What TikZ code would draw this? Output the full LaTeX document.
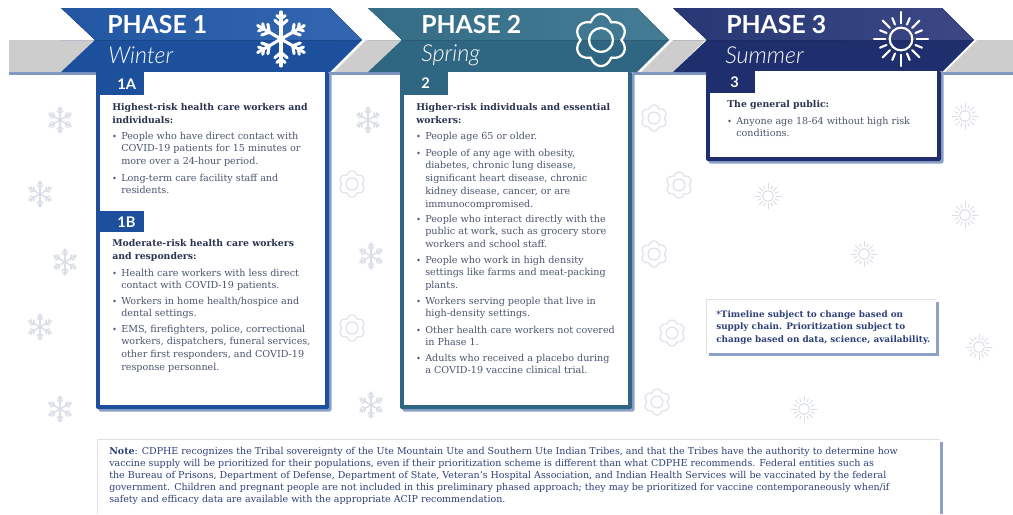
\documentclass[tikz,border=0pt]{standalone}
\usepackage{fontspec}
\setmainfont{DejaVu Serif}
\newfontfamily\headfont{Lato}
\newfontfamily\seasonfont{Lato}[UprightFont=* Light Italic]
\usetikzlibrary{calc}
\definecolor{bandgray}{HTML}{CDCDCD}
\definecolor{bandline}{HTML}{7F96C2}
\definecolor{onedark}{HTML}{1C509C}
\definecolor{onelight}{HTML}{3366B0}
\definecolor{twodark}{HTML}{2F6681}
\definecolor{twolight}{HTML}{437C94}
\definecolor{threedark}{HTML}{1F2F6E}
\definecolor{threelight}{HTML}{3C4885}
\definecolor{bodytext}{HTML}{4B5570}
\definecolor{headtext}{HTML}{2B3352}
\definecolor{notetext}{HTML}{2F4079}
\definecolor{iconpale}{HTML}{DADEE6}
\definecolor{shadowblue}{HTML}{8DA1C8}
\tikzset{
  x=0.75pt,y=-0.75pt,
  bodyblock/.style={anchor=north west,inner sep=0pt,align=left,text=bodytext,
    font=\fontsize{7.2}{9.6}\selectfont},
  headblock/.style={anchor=north west,inner sep=0pt,align=left,text=headtext,
    font=\fontsize{7}{9.55}\selectfont\bfseries},
  dotmark/.style={circle,fill=bodytext,inner sep=0pt,minimum size=2.2pt},
  phasetitle/.style={anchor=west,inner sep=0pt,text=white,font=\headfont\fontsize{18.6}{20}\selectfont\bfseries},
  seasontitle/.style={anchor=west,inner sep=0pt,text=white,font=\seasonfont\fontsize{17.5}{20}\selectfont},
  tablabel/.style={anchor=west,inner sep=0pt,text=white,font=\headfont\fontsize{11}{12}\selectfont\bfseries},
  noteblock/.style={anchor=north west,inner sep=0pt,align=left,text=notetext,
    font=\fontsize{7.12}{9}\selectfont},
  timeblock/.style={anchor=north west,inner sep=0pt,align=left,text=notetext,
    font=\fontsize{6.65}{9.4}\selectfont\bfseries},
}
% #1 x, #2 y, #3 radius in px, #4 colour, #5 line width
\newcommand{\snowicon}[5]{%
  \begin{scope}[shift={(#1,#2)},draw=#4,line width=#5,line cap=round]
    \foreach \a in {90,150,210,270,330,30}{
      \draw (0,0) -- ({#3*cos(\a)},{#3*sin(\a)});
      \draw ({.5*#3*cos(\a)+.3*#3*cos(\a+50)},{.5*#3*sin(\a)+.3*#3*sin(\a+50)}) -- ({.5*#3*cos(\a)},{.5*#3*sin(\a)}) -- ({.5*#3*cos(\a)+.3*#3*cos(\a-50)},{.5*#3*sin(\a)+.3*#3*sin(\a-50)});
      \draw ({.74*#3*cos(\a)+.2*#3*cos(\a+50)},{.74*#3*sin(\a)+.2*#3*sin(\a+50)}) -- ({.74*#3*cos(\a)},{.74*#3*sin(\a)}) -- ({.74*#3*cos(\a)+.2*#3*cos(\a-50)},{.74*#3*sin(\a)+.2*#3*sin(\a-50)});
    }
  \end{scope}}
\newcommand{\flowericon}[5]{%
  \begin{scope}[shift={(#1,#2)},draw=#4,line width=#5,line join=round]
    \draw plot[domain=0:360,samples=121] ({#3*(.78+.22*abs(sin(3*\x)))*cos(\x)},{#3*(.78+.22*abs(sin(3*\x)))*sin(\x)}) -- cycle;
    \draw (0,0) circle ({.46*#3});
  \end{scope}}
\newcommand{\sunicon}[5]{%
  \begin{scope}[shift={(#1,#2)},draw=#4,line width=#5,line cap=round]
    \draw (0,0) circle ({.42*#3});
    \foreach \a in {0,90,180,270}{
      \draw ({.58*#3*cos(\a)},{.58*#3*sin(\a)}) -- ({#3*cos(\a)},{#3*sin(\a)});
      \draw ({.58*#3*cos(\a+22.5)},{.58*#3*sin(\a+22.5)}) -- ({.84*#3*cos(\a+22.5)},{.84*#3*sin(\a+22.5)});
      \draw ({.58*#3*cos(\a+45)},{.58*#3*sin(\a+45)}) -- ({.96*#3*cos(\a+45)},{.96*#3*sin(\a+45)});
      \draw ({.58*#3*cos(\a+67.5)},{.58*#3*sin(\a+67.5)}) -- ({.84*#3*cos(\a+67.5)},{.84*#3*sin(\a+67.5)});
    }
  \end{scope}}
% #1 left, #2 right, #3 dark, #4 light
\newcommand{\phasearrow}[4]{%
  \fill[#3] (#1,40) -- (#1+34,40) -- (#1,72) -- (#2,72) -- (#2+32,40) -- cycle;
  \fill[left color=#3!70!#4,right color=#4] (#1,8) -- (#2,8) -- (#2+32,40) -- (#1+34,40) -- cycle;}
% #1 left, #2 top, #3 right, #4 bottom, #5 colour, #6 tab right, #7 tab bottom
\newcommand{\phasecard}[7]{%
  \fill[shadowblue,rounded corners=1.5] (#1+2.5,#2) rectangle (#3+2.5,#4+2.5);
  \fill[#5,rounded corners=1.5] (#1,#2) rectangle (#3,#4);
  \fill[white] (#1+4,#2) rectangle (#3-4,#4-4);
  \fill[#5] (#1,#2) rectangle (#6,#7);}
\begin{document}
\begin{tikzpicture}
\useasboundingbox (0,0) rectangle (1013,514);
\fill[white] (0,0) rectangle (1013,514);
% band
\fill[bandline] (9,72) rectangle (1013,75);
\fill[bandgray] (9,40) -- (95,40) -- (61,72) -- (9,72) -- cycle;
\fill[bandgray] (366,40) -- (402,40) -- (368,72) -- (334,72) -- cycle;
\fill[bandgray] (673,40) -- (705,40) -- (673,72) -- (641,72) -- cycle;
\fill[bandgray] (977,40) -- (1013,40) -- (1013,72) -- (945,72) -- cycle;
% pale background icons
\foreach \p/\q in {60/120,40/194,65/262,40/327,60/409,368/120,371/256,371/405}{\snowicon{\p}{\q}{13}{iconpale}{1.05pt}}
\foreach \p/\q in {352/184,352/328,654/118,679/185,654/254,672/333,657/402}{\flowericon{\p}{\q}{13}{iconpale}{.8pt}}
\foreach \p/\q in {965/116,768/196,965/215,864/254,979/347,804/409}{\sunicon{\p}{\q}{13}{iconpale}{.75pt}}
% phase arrows
\phasearrow{61}{330}{onedark}{onelight}
\phasearrow{368}{637}{twodark}{twolight}
\phasearrow{673}{942}{threedark}{threelight}
% cards
\phasecard{96}{72}{329}{409}{onedark}{144}{95}
\fill[onedark] (96,211) rectangle (144,232);
\phasecard{400}{72}{632}{409}{twodark}{448}{95}
\phasecard{706}{71}{941}{161}{threedark}{755}{93}
% headers
\node[phasetitle] (p1) at (107,25) {PHASE 1};
\node[seasontitle] (s1) at (108,55) {Winter};
\node[phasetitle] (p2) at (421,25) {PHASE 2};
\node[seasontitle] (s2) at (421,55) {Spring};
\node[phasetitle] (p3) at (726,25) {PHASE 3};
\node[seasontitle] (s3) at (725,55) {Summer};
\snowicon{281}{39}{27}{white}{2.3pt}
\flowericon{601}{40}{26}{white}{1.7pt}
\sunicon{901}{39}{27}{white}{1.6pt}
% tabs
\node[tablabel] (t1a) at (117,84) {1A};
\node[tablabel] (t1b) at (117,222) {1B};
\node[tablabel] (t2) at (421,83) {2};
\node[tablabel] (t3) at (730,82) {3};
% card 1
\node[headblock] (h1a) at (112,103) {Highest-risk health care workers and\\individuals:};
\node[dotmark] (d1) at (114.5,136) {};
\node[bodyblock] (b1) at (121,131.5) {People who have direct contact with\\COVID-19 patients for 15 minutes or\\more over a 24-hour period.};
\node[dotmark] (d2) at (114.5,178) {};
\node[bodyblock] (b2) at (121,173.5) {Long-term care facility staff and\\residents.};
\node[headblock] (h1b) at (112,239) {Moderate-risk health care workers\\and responders:};
\node[dotmark] (d3) at (114.5,273) {};
\node[bodyblock] (b3) at (121,268.5) {Health care workers with less direct\\contact with COVID-19 patients.};
\node[dotmark] (d4) at (114.5,301) {};
\node[bodyblock] (b4) at (121,296.5) {Workers in home health/hospice and\\dental settings.};
\node[dotmark] (d5) at (114.5,329) {};
\node[bodyblock] (b5) at (121,324.5) {EMS, firefighters, police, correctional\\workers, dispatchers, funeral services,\\other first responders, and COVID-19\\response personnel.};
% card 2
\node[headblock] (h2) at (416,103) {Higher-risk individuals and essential\\workers:};
\node[dotmark] (e1) at (418.5,136) {};
\node[bodyblock] (c1) at (425,131.5) {People age 65 or older.};
\node[dotmark] (e2) at (418.5,153) {};
\node[bodyblock] (c2) at (425,148.5) {People of any age with obesity,\\diabetes, chronic lung disease,\\significant heart disease, chronic\\kidney disease, cancer, or are\\immunocompromised.};
\node[dotmark] (e3) at (418.5,219) {};
\node[bodyblock] (c3) at (425,214.5) {People who interact directly with the\\public at work, such as grocery store\\workers and school staff.};
\node[dotmark] (e4) at (418.5,260) {};
\node[bodyblock] (c4) at (425,255.5) {People who work in high density\\settings like farms and meat-packing\\plants.};
\node[dotmark] (e5) at (418.5,301) {};
\node[bodyblock] (c5) at (425,296.5) {Workers serving people that live in\\high-density settings.};
\node[dotmark] (e6) at (418.5,330) {};
\node[bodyblock] (c6) at (425,325.5) {Other health care workers not covered\\in Phase 1.};
\node[dotmark] (e7) at (418.5,358) {};
\node[bodyblock] (c7) at (425,353.5) {Adults who received a placebo during\\a COVID-19 vaccine clinical trial.};
% card 3
\node[headblock] (h3) at (727,100.5) {The general public:};
\node[dotmark] (f1) at (729.5,121) {};
\node[bodyblock] (g1) at (736,116.5) {Anyone age 18-64 without high risk\\conditions.};
% timeline box
\fill[shadowblue] (709,302) rectangle (938.5,355.5);
\fill[white] (706,299) rectangle (936,353);
\draw[black!12,line width=.5pt] (706,353) -- (706,299) -- (936,299);
\node[timeblock] (tb) at (716,310) {*Timeline subject to change based on\\supply chain. Prioritization subject to\\change based on data, science, availability.};
% note box
\fill[shadowblue] (100,442) rectangle (942.5,514);
\fill[white] (97,439) rectangle (940,514);
\draw[black!12,line width=.5pt] (97,514) -- (97,439) -- (940,439);
\node[noteblock] (nb) at (109,447.5) {\textbf{Note}: CDPHE recognizes the Tribal sovereignty of the Ute Mountain Ute and Southern Ute Indian Tribes, and that the Tribes have the authority to determine how\\vaccine supply will be prioritized for their populations, even if their prioritization scheme is different than what CDPHE recommends. Federal entities such as\\the Bureau of Prisons, Department of Defense, Department of State, Veteran's Hospital Association, and Indian Health Services will be vaccinated by the federal\\government. Children and pregnant people are not included in this preliminary phased approach; they may be prioritized for vaccine contemporaneously when/if\\safety and efficacy data are available with the appropriate ACIP recommendation.};
\end{tikzpicture}
\end{document}
